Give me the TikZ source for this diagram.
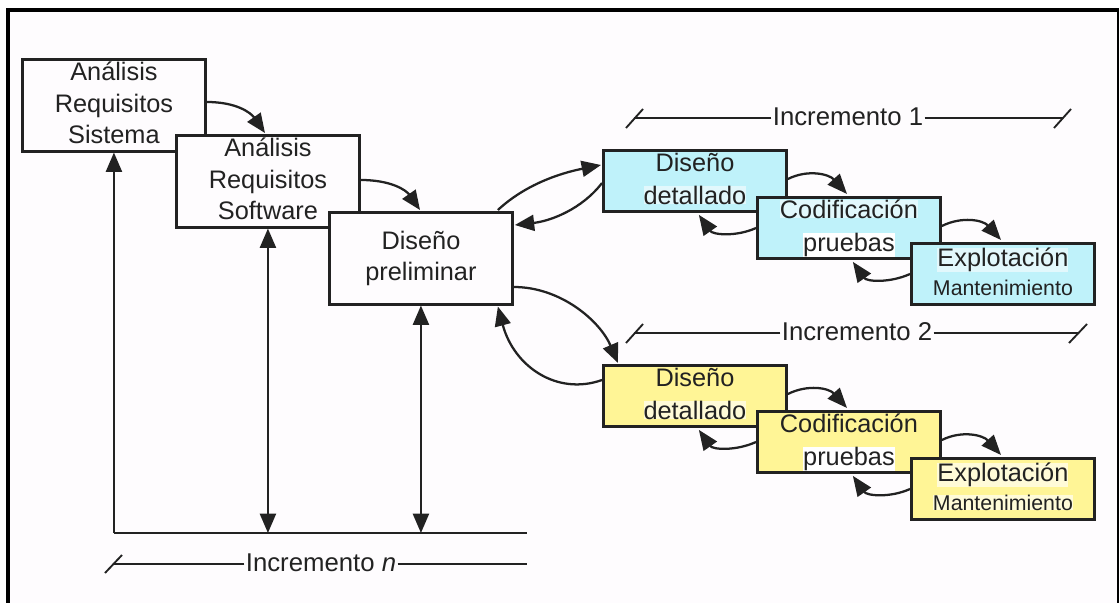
\documentclass[tikz,border=0pt]{standalone}
\usepackage{fontspec}
\setmainfont{Liberation Sans}
\usetikzlibrary{arrows.meta,calc}
\definecolor{ink}{HTML}{222222}
\definecolor{paper}{HTML}{FEFCFE}
\definecolor{cyanbox}{HTML}{BFF2FA}
\definecolor{cyantint}{HTML}{E2F8FC}
\definecolor{yellowbox}{HTML}{FFF596}
\definecolor{yellowtint}{HTML}{FFFBD8}
\newcommand{\hlw}[2]{{\setlength{\fboxsep}{0pt}\colorbox{#1}{#2}}}
\newcommand{\lines}[1]{\raisebox{-4.7pt}[0pt][0pt]{\begin{tabular}{@{}c@{}}#1\end{tabular}}}
% \curve{style}{start}{offset from start}{offset from end}{end}
\newcommand{\curve}[5]{\draw[#1] #2 .. controls ($#2+#3$) and ($#5+#4$) .. #5;}
\tikzset{
  every node/.style={text=ink},
  boxbase/.style={draw=ink,line width=1.9pt,anchor=north west,inner sep=0pt,align=center,
     minimum width=137.5pt,font=\fontsize{19}{23.5}\selectfont},
  sysbox/.style={boxbase,fill=paper,minimum height=69pt},
  cbox/.style={boxbase,fill=cyanbox,minimum height=46pt},
  ybox/.style={boxbase,fill=yellowbox,minimum height=46pt},
  conn/.style={draw=ink,line width=1.7pt,-{Triangle[length=14.5pt,width=12pt]}},
  conn2/.style={draw=ink,line width=1.7pt,{Triangle[length=14.5pt,width=12pt]}-{Triangle[length=14.5pt,width=12pt]}},
  small/.style={draw=ink,line width=1.7pt,-{Triangle[length=15pt,width=12pt]}},
  base/.style={draw=ink,line width=1.8pt},
  span/.style={draw=ink,line width=1.4pt},
  inclabel/.style={inner sep=1pt,font=\fontsize{19.3}{24}\selectfont}
}
\begin{document}
\begin{tikzpicture}[x=0.75pt,y=-0.75pt]
\useasboundingbox (0,0) rectangle (1119,603);
\fill[white] (0,0) rectangle (1119,603);
\fill[paper] (10,12) rectangle (1117,603);
\fill[black] (6,8) rectangle (10.2,603);
\fill[black] (6,7.5) rectangle (1118.5,12.4);
\fill[black] (1117,8) rectangle (1118.5,603);

% system boxes
\node[sysbox] (a1) at (21,58) {\lines{Análisis\\Requisitos\\Sistema}};
\node[sysbox] (a2) at (175,134) {\lines{Análisis\\Requisitos\\Software}};
\node[sysbox] (a3) at (328,211) {\lines{Diseño\\preliminar}};

% increment 1
\node[cbox] (d1) at (602,149) {\lines{Diseño\\[1.3pt]\hlw{cyantint}{detallado}}};
\node[cbox] (c1) at (756,196) {\lines{\hlw{cyantint}{Codificación}\\[1.3pt]\hlw{white}{pruebas}}};
\node[cbox] (e1) at (910,242) {\lines{\hlw{cyantint}{Explotación}\\[-2pt]{\fontsize{16}{18}\selectfont Mantenimiento}}};
% increment 2
\node[ybox] (d2) at (602,364) {\lines{Diseño\\[1.3pt]\hlw{yellowtint}{detallado}}};
\node[ybox] (c2) at (756,410) {\lines{Codificación\\[1.3pt]\hlw{white}{pruebas}}};
\node[ybox] (e2) at (910,457) {\lines{\hlw{yellowtint}{Explotación}\\[-2pt]{\fontsize{16}{18}\selectfont\hlw{yellowtint}{Mantenimiento}}}};

% system connectors
\curve{conn}{($(a1.north east)+(0,44)$)}{(30,0)}{(-14,-20)}{($(a2.north west)+(90,-1)$)}
\curve{conn}{($(a2.north east)+(0,46)$)}{(30,0)}{(-14,-20)}{($(a3.north west)+(92,-1)$)}

% to and from increment 1
\curve{conn}{($(a3.north east)+(-16,-1)$)}{(28,-26)}{(-40,8)}{($(d1.north west)+(-1,16)$)}
\curve{conn}{($(d1.north west)+(0,34)$)}{(-20,26)}{(36,-4)}{($(a3.north east)+(1,14)$)}
% to and from increment 2
\curve{conn}{($(a3.north east)+(0,76)$)}{(47,0)}{(-18,-42)}{($(d2.north west)+(16,-1)$)}
\curve{conn}{($(d2.north west)+(0,16)$)}{(-45,16)}{(16,60)}{($(a3.south east)+(-16,1)$)}

% chains
\foreach \p/\q in {d1/c1,c1/e1,d2/c2,c2/e2}{
  \curve{small}{($(\p.north east)+(0,30)$)}{(20,-10)}{(-18,-20)}{($(\q.north west)+(91,-2)$)}
  \curve{small}{($(\q.north west)+(0,32)$)}{(-20,9)}{(14,20)}{($(\p.south east)+(-89,2)$)}
}

% increment n
\coordinate (bl) at (a1.south |- 0,533);
\coordinate (br) at (527,533);
\draw[base] (bl) -- (br);
\draw[conn] (bl) -- (a1.south);
\draw[conn2] (a2.south) -- (a2.south |- bl);
\draw[conn2] (a3.south) -- (a3.south |- bl);

\node[inclabel] (ln) at (321,563) {Incremento \textit{n}};
\coordinate (lnl) at (114,564);
\coordinate (lnr) at (527,564);
\draw[span] (ln.west |- lnl) -- (lnl);
\draw[span] (ln.east |- lnr) -- (lnr);
\draw[span] ($(lnl)+(8,-9)$) -- ($(lnl)+(-9,9)$);

\node[inclabel] (l1) at (848,117) {Incremento 1};
\coordinate (l1l) at (634,118);
\coordinate (l1r) at (1063,118);
\draw[span] (l1.west |- l1l) -- (l1l);
\draw[span] (l1.east |- l1r) -- (l1r);
\draw[span] ($(l1l)+(9,-9)$) -- ($(l1l)+(-8,10)$);
\draw[span] ($(l1r)+(8,-9)$) -- ($(l1r)+(-9,10)$);

\node[inclabel] (l2) at (857,332) {Incremento 2};
\coordinate (l2l) at (634,333);
\coordinate (l2r) at (1078,333);
\draw[span] (l2.west |- l2l) -- (l2l);
\draw[span] (l2.east |- l2r) -- (l2r);
\draw[span] ($(l2l)+(9,-9)$) -- ($(l2l)+(-8,10)$);
\draw[span] ($(l2r)+(9,-9)$) -- ($(l2r)+(-9,10)$);
\end{tikzpicture}
\end{document}
